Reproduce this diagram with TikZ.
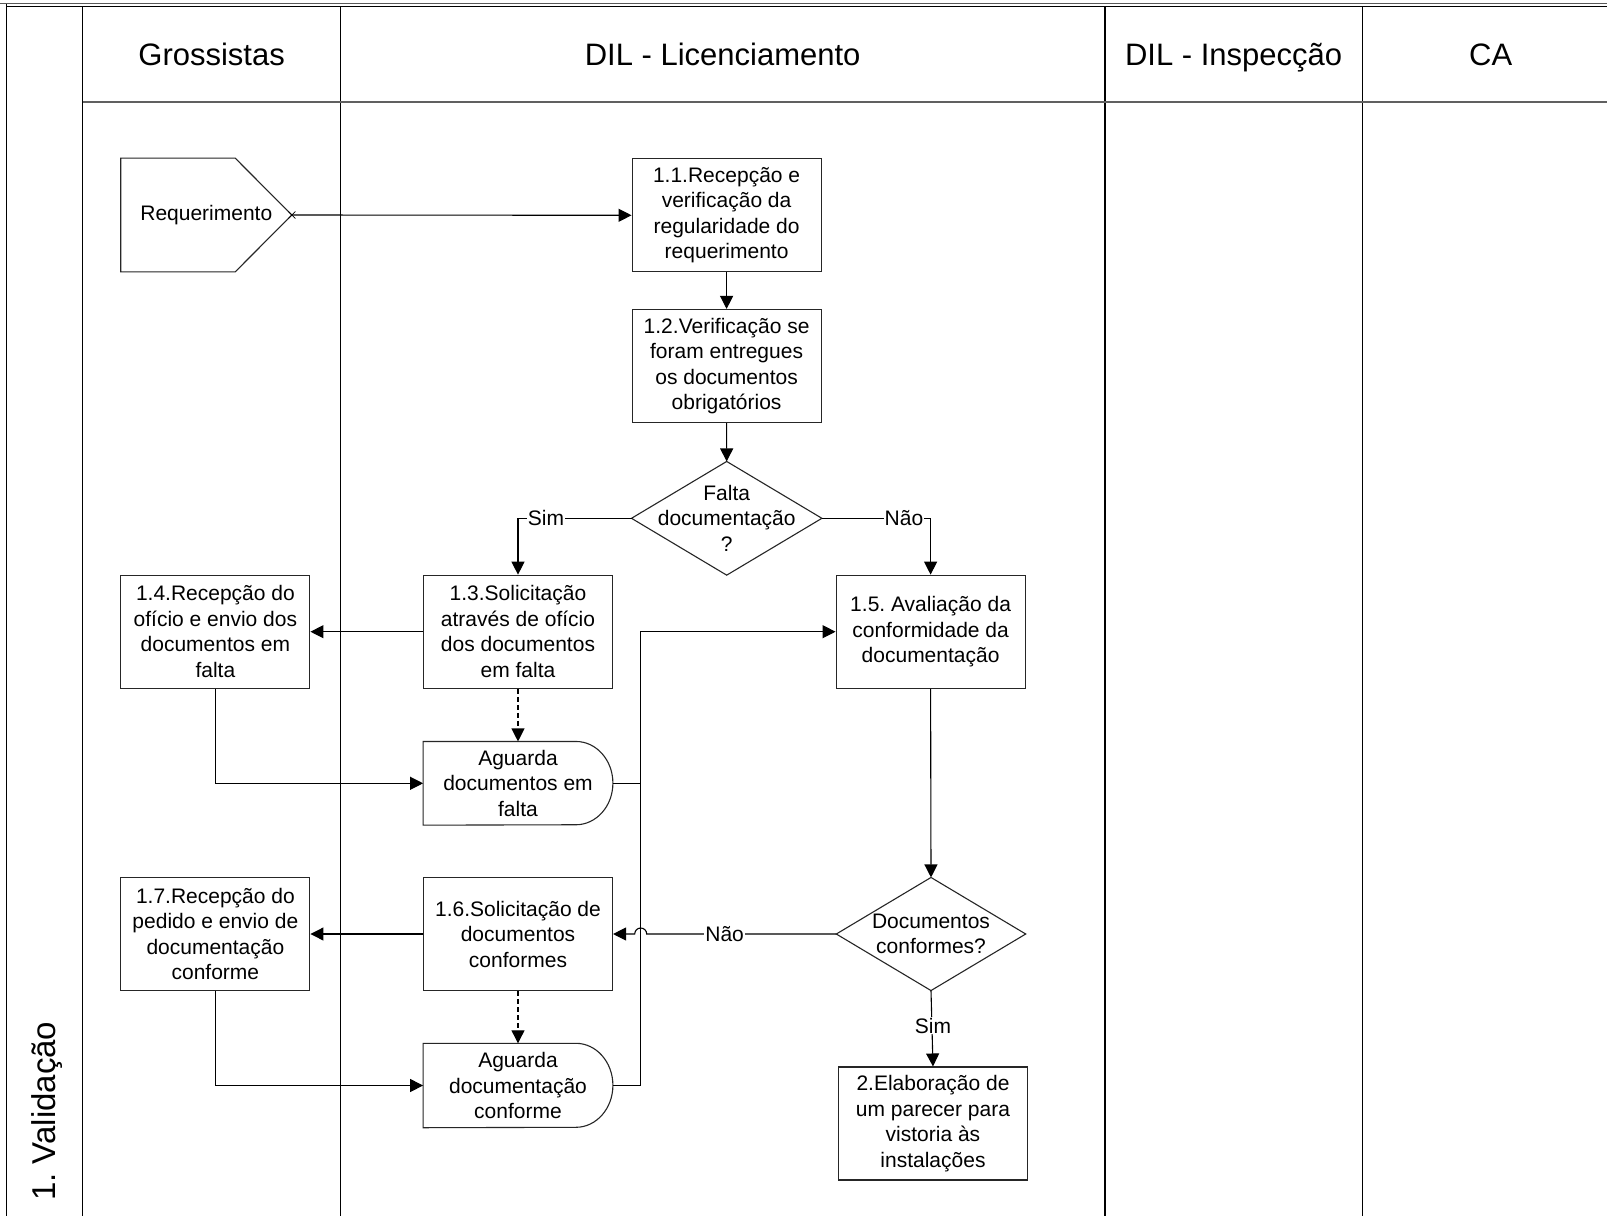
\documentclass[tikz,border=0pt]{standalone}
\usepackage{fontspec}
\setmainfont{Liberation Sans}
\usetikzlibrary{arrows.meta,calc}
\frenchspacing
\begin{document}
\begin{tikzpicture}[x=1pt,y=-1pt,
  txt/.style={font=\fontsize{21}{25.5}\selectfont\frenchspacing, align=center, inner sep=0pt},
  box/.style={txt, draw=black!85, line width=1.1pt, fill=white, minimum width=189pt, minimum height=113pt},
  shapebox/.style={txt, draw=none},
  outline/.style={draw=black!85, line width=1.1pt, fill=white},
  conn/.style={draw=black, line width=1.1pt, -{Triangle[length=13pt,width=13pt]}},
  plain/.style={draw=black, line width=1.1pt},
  dconn/.style={conn, dash pattern=on 5pt off 3pt},
  lbl/.style={txt, fill=white, inner sep=1pt},
  lane/.style={draw=black, line width=1.3pt},
  head/.style={font=\fontsize{31}{36}\selectfont, inner sep=0pt, anchor=base}
]
\useasboundingbox (0,0) rectangle (1607,1216);
\fill[white] (0,0) rectangle (1607,1216);

% pool frame and lanes
\draw[gray!70!black, line width=1.3pt] (0,3.8) -- (1607,3.8);
\draw[black, line width=1pt] (6.7,6.8) -- (1607,6.8);
\draw[lane] (6.7,3.8) -- (6.7,1216);
\draw[lane] (82.7,6.8) -- (82.7,1216);
\draw[lane] (340.5,6.8) -- (340.5,1216);
\draw[lane] (1105,6.8) -- (1105,1216);
\draw[lane] (1362.3,6.8) -- (1362.3,1216);
\draw[gray!75!black, line width=2pt] (82.7,101.7) -- (1607,101.7);

\node[head] (hg) at (211.6,65) {Grossistas};
\node[head] (hl) at (722.7,65) {DIL - Licenciamento};
\node[head] (hi) at (1233.6,65) {DIL - Inspecção};
\node[head] (hc) at (1490.7,65) {CA};
\node[font=\fontsize{33}{38}\selectfont, inner sep=0pt, rotate=90, anchor=base west] (pool) at (55.5,1201) {1. Validação};

% Requerimento (off-page connector)
\node[shapebox, minimum width=170.7pt, minimum height=113.4pt] (req) at (206.3,215) {};
\draw[outline] (req.north west) -- ([xshift=-56.7pt]req.north east) -- (req.east)
  -- ([xshift=-56.7pt]req.south east) -- (req.south west) -- cycle;
\node[txt] at (req) {Requerimento};

% process boxes
\node[box] (n11) at (726.6,215.3) {1.1.Recepção e\\verificação da\\regularidade do\\requerimento};
\node[box] (n12) at (726.6,366) {1.2.Verificação se\\foram entregues\\os documentos\\obrigatórios};
\node[shapebox, minimum width=190pt, minimum height=113.3pt] (d1) at (726.7,518.3) {};
\draw[outline] (d1.north) -- (d1.east) -- (d1.south) -- (d1.west) -- cycle;
\node[txt] at (d1) {Falta\\documentação\\?};

\node[box] (n13) at (518,631.7) {1.3.Solicitação\\através de ofício\\dos documentos\\em falta};
\node[box] (n14) at (215.4,631.7) {1.4.Recepção do\\ofício e envio dos\\documentos em\\falta};
\node[box] (n15) at (930.6,631.7) {1.5. Avaliação da\\conformidade da\\documentação};

\node[shapebox, minimum width=189.4pt, minimum height=83.3pt] (a1) at (518,783.3) {};
\draw[outline] (a1.north west) -- ([xshift=-37pt]a1.north east)
  arc[start angle=90, end angle=-90, x radius=37pt, y radius=41.65pt]
  -- (a1.south west) -- cycle;
\node[txt] at (a1) {Aguarda\\documentos em\\falta};

\node[box] (n16) at (518,934) {1.6.Solicitação de\\documentos\\conformes};
\node[box] (n17) at (215.4,934) {1.7.Recepção do\\pedido e envio de\\documentação\\conforme};
\node[shapebox, minimum width=189pt, minimum height=112.7pt] (d2) at (931,934) {};
\draw[outline] (d2.north) -- (d2.east) -- (d2.south) -- (d2.west) -- cycle;
\node[txt] at (d2) {Documentos\\conformes?};

\node[shapebox, minimum width=189.4pt, minimum height=84pt] (a2) at (518,1085.5) {};
\draw[outline] (a2.north west) -- ([xshift=-37pt]a2.north east)
  arc[start angle=90, end angle=-90, x radius=37pt, y radius=42pt]
  -- (a2.south west) -- cycle;
\node[txt] at (a2) {Aguarda\\documentação\\conforme};

\node[box] (n2) at (933,1123.5) {2.Elaboração de\\um parecer para\\vistoria às\\instalações};

% connectors
\draw[conn] (req.east) -- (n11.west);
\draw[black, line width=0.8pt] (req.east) +(-3.5,-3.5) -- +(3.5,3.5) +(-3.5,3.5) -- +(3.5,-3.5);
\draw[conn] (n11.south) -- (n12.north);
\draw[conn] (n12.south) -- (d1.north);
\draw[conn] (d1.west) -| (n13.north);
\node[lbl] (ls1) at (546,518.3) {Sim};
\draw[conn] (d1.east) -| (n15.north);
\node[lbl] (ln1) at (904,518.3) {Não};
\draw[conn] (n13.west) -- (n14.east);
\draw[dconn] (n13.south) -- (a1.north);
\draw[conn] (n14.south) |- (a1.west);
\coordinate (j) at (640.7,631.7);
\draw[conn] (a1.east) -| (j) -- (n15.west);
\draw[conn] (n15.south) -- (d2.north);
\draw[conn] (d2.west) -- (646.7,934) arc[start angle=0, end angle=180, radius=6pt] -- (n16.east);
\node[lbl] (ln2) at (724.6,934) {Não};
\draw[conn] (n16.west) -- (n17.east);
\draw[dconn] (n16.south) -- (a2.north);
\draw[conn] (n17.south) |- (a2.west);
\draw[plain] (a2.east) -| (j);
\draw[conn] (d2.south) -- (n2.north);
\node[lbl] (ls2) at (933,1025.7) {Sim};
\end{tikzpicture}
\end{document}
